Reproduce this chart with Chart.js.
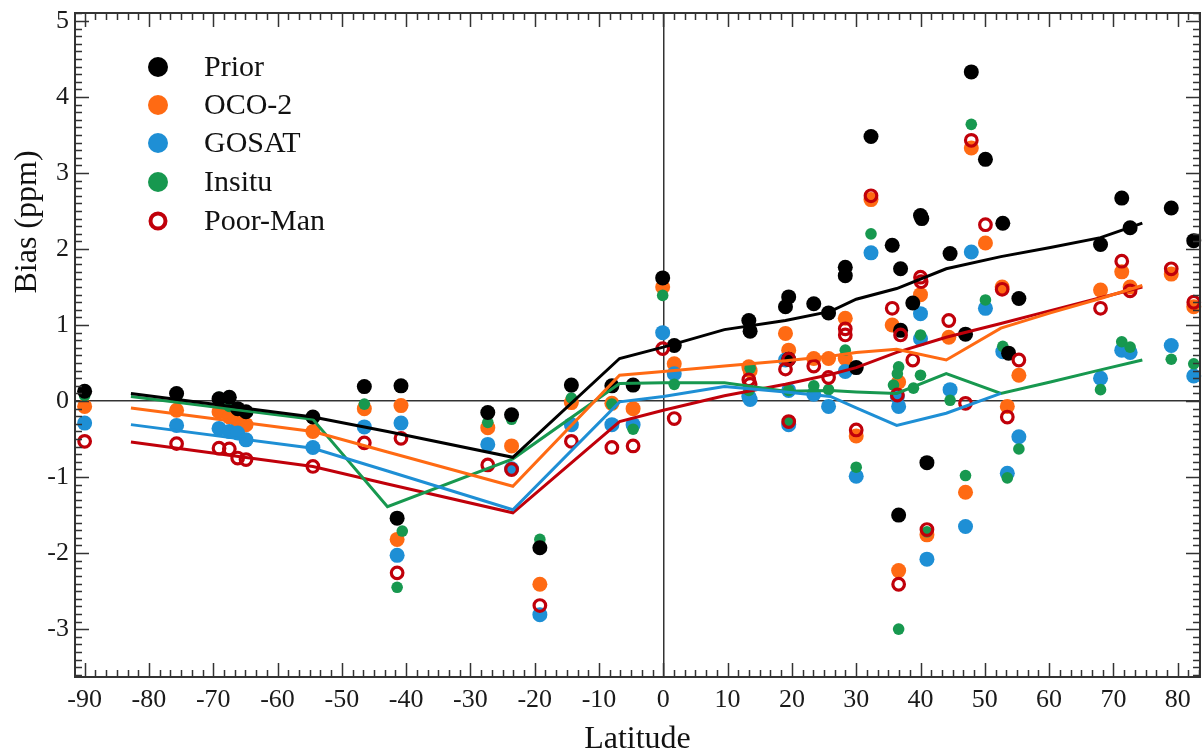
<!DOCTYPE html>
<html>
<head>
<meta charset="utf-8">
<title>Bias vs latitude</title>
<script src="https://cdn.jsdelivr.net/npm/chart.js@4.4.1/dist/chart.umd.min.js"></script>
<style>
  html, body { margin: 0; padding: 0; background: #fff; }
  #biasChart { display: block; }
</style>
</head>
<body>
<canvas id="biasChart" width="1203" height="752"></canvas>
<script>
// station points: latitude (deg) and bias (ppm) for each run

const priorLat = [-90, -75.7, -69.1, -67.5, -66.2, -64.9, -54.5, -46.5, -40.8, -41.4, -27.3, -23.6, -19.2, -14.3, -8.0, -4.7, -0.1, 1.7,
  13.3, 13.5, 19.0, 19.5, 19.5, 23.4, 25.7, 28.3, 28.3, 30.0, 32.3, 35.6, 36.9, 36.9, 36.6, 38.8, 40.0, 40.2, 41.0,
  44.6, 47.0, 47.9, 50.1, 52.8, 53.7, 55.3, 68.0, 71.3, 72.6, 79.0, 82.5];
const priorBias = [0.13, 0.10, 0.03, 0.05, -0.10, -0.14, -0.21, 0.19, 0.20, -1.54, -0.15, -0.18, -1.93, 0.21, 0.20, 0.21, 1.62, 0.73,
  1.06, 0.92, 1.24, 1.37, 0.55, 1.28, 1.16, 1.76, 1.65, 0.44, 3.48, 2.05, 1.74, 0.93, -1.50, 1.29, 2.44, 2.40, -0.81,
  1.94, 0.88, 4.33, 3.18, 2.34, 0.63, 1.35, 2.06, 2.67, 2.28, 2.54, 2.11];

const oco2Lat = [-90, -75.7, -69.1, -67.5, -66.2, -64.9, -54.5, -46.5, -40.8, -41.4, -27.3, -23.6, -19.2, -14.3, -8.0, -4.7, -0.1, 1.7,
  13.3, 13.5, 19.0, 19.5, 19.3, 23.4, 25.7, 28.3, 28.3, 30.0, 32.3, 35.6, 36.6, 36.6, 40.0, 41.0,
  44.4, 47.0, 47.9, 50.1, 52.7, 53.5, 55.3, 68.0, 71.3, 72.6, 79.0, 82.5];
const oco2Bias = [-0.07, -0.12, -0.14, -0.21, -0.27, -0.31, -0.40, -0.10, -0.06, -1.82, -0.35, -0.59, -2.41, -0.02, -0.03, -0.10, 1.50, 0.49,
  0.45, 0.40, 0.89, 0.67, 0.55, 0.56, 0.56, 1.09, 0.56, -0.46, 2.65, 1.00, 0.25, -2.23, 1.40, -1.76,
  0.84, -1.20, 3.33, 2.08, 1.50, -0.07, 0.34, 1.46, 1.70, 1.50, 1.67, 1.24];

const gosatLat = [-90, -75.7, -69.1, -67.5, -66.2, -64.9, -54.5, -46.5, -40.8, -41.4, -27.3, -23.6, -19.2, -14.3, -8.0, -4.7, -0.1, 1.7,
  13.3, 13.5, 19.0, 19.5, 19.5, 23.4, 25.7, 28.3, 30.0, 32.3, 36.4, 36.6, 40.0, 40.0, 41.0,
  44.6, 47.0, 47.9, 50.1, 52.8, 53.5, 55.3, 68.0, 71.3, 72.6, 79.0, 82.5];
const gosatBias = [-0.29, -0.32, -0.36, -0.40, -0.42, -0.51, -0.61, -0.34, -0.29, -2.03, -0.57, -0.89, -2.81, -0.31, -0.31, -0.31, 0.90, 0.36,
  0.06, 0.02, 0.54, 0.14, -0.31, 0.09, -0.07, 0.39, -0.99, 1.95, 0.06, -0.07, 1.15, 0.82, -2.08,
  0.15, -1.65, 1.96, 1.22, 0.65, -0.95, -0.47, 0.30, 0.67, 0.64, 0.73, 0.33];

const insituLat = [-90, -75.7, -69.1, -67.5, -66.2, -64.9, -54.5, -46.5, -40.6, -41.4, -27.3, -23.6, -19.2, -14.3, -8.0, -4.7, -0.1, 1.7,
  13.5, 13.3, 19.5, 19.5, 23.4, 25.7, 28.3, 30.0, 32.3, 36.6, 36.4, 35.8, 36.6, 38.9, 40.0, 40.0, 41.0,
  44.6, 47.0, 47.9, 50.1, 52.8, 53.5, 55.3, 68.0, 71.3, 72.6, 79.0, 82.5];
const insituBias = [0.07, 0.05, 0.05, -0.07, -0.12, -0.14, -0.22, -0.04, -1.71, -2.45, -0.28, -0.24, -1.82, 0.04, -0.04, -0.37, 1.39, 0.22,
  0.43, 0.14, 0.14, -0.28, 0.20, 0.15, 0.67, -0.87, 2.20, 0.45, 0.36, 0.21, -3.00, 0.17, 0.87, 0.34, -1.72,
  0.01, -0.98, 3.64, 1.33, 0.72, -1.01, -0.63, 0.15, 0.78, 0.71, 0.55, 0.49];

const poorManLat = [-90, -75.7, -69.1, -67.5, -66.2, -64.9, -54.5, -46.5, -40.8, -41.4, -27.3, -23.6, -19.2, -14.3, -8.0, -4.7, -0.1, 1.7,
  13.3, 13.5, 19.0, 19.5, 19.5, 23.4, 25.7, 28.3, 28.3, 30.0, 32.3, 35.6, 36.9, 36.4, 36.6, 38.8, 40.0, 40.1, 41.0,
  44.4, 47.0, 47.9, 50.1, 52.7, 53.5, 55.3, 68.0, 71.3, 72.6, 79.0, 82.5];
const poorManBias = [-0.53, -0.56, -0.62, -0.63, -0.75, -0.77, -0.86, -0.55, -0.49, -2.26, -0.84, -0.90, -2.69, -0.53, -0.61, -0.59, 0.69, -0.23,
  0.28, 0.22, 0.42, 0.55, -0.27, 0.46, 0.31, 0.95, 0.87, -0.38, 2.70, 1.22, 0.87, 0.08, -2.41, 0.54, 1.63, 1.57, -1.69,
  1.06, -0.03, 3.43, 2.32, 1.47, -0.21, 0.54, 1.22, 1.84, 1.45, 1.74, 1.30];

// zonal mean curves (same latitudes for every run, GOSAT curve stops early)
const lineLat = [-82.8, -54.5, -42.9, -23.4, -6.8, 0, 9.5, 19, 26, 30, 36.3, 44, 52.5, 60.2, 68, 74.5];
const priorLine = [0.10, -0.21, -0.40, -0.74, 0.56, 0.71, 0.94, 1.06, 1.18, 1.34, 1.48, 1.74, 1.90, 2.02, 2.15, 2.34];
const oco2Line = [-0.09, -0.40, -0.67, -1.12, 0.34, 0.39, 0.46, 0.53, 0.59, 0.64, 0.68, 0.54, 0.96, 1.16, 1.35, 1.52];
const gosatLine = [-0.31, -0.62, -0.92, -1.43, -0.01, 0.06, 0.19, 0.12, 0.06, -0.09, -0.32, -0.16, 0.10, null, null, null];
const insituLine = [0.06, -0.24, -1.39, -0.76, 0.23, 0.24, 0.24, 0.13, 0.14, 0.12, 0.10, 0.36, 0.10, 0.25, 0.41, 0.54];
const poorManLine = [-0.54, -0.86, -1.09, -1.47, -0.27, -0.12, 0.07, 0.22, 0.35, 0.44, 0.64, 0.84, 1.02, 1.19, 1.36, 1.50];

// tick labels
const latTicks = [-90, -80, -70, -60, -50, -40, -30, -20, -10, 0, 10, 20, 30, 40, 50, 60, 70, 80];
const biasTicks = [-3, -2, -1, 0, 1, 2, 3, 4, 5];

const seriesNames = ["Prior", "OCO-2", "GOSAT", "Insitu", "Poor-Man"];


// colours
const cPrior = "#000000";
const cOco2 = "#ff6a13";
const cGosat = "#1e8fd5";
const cInsitu = "#17984f";
const cPoorMan = "#c0000a";

const serifFont = "'Liberation Serif', 'DejaVu Serif', serif";


function toPoints(lats, vals) {
    return lats.map(function (lat, i) {
        return { x: lat, y: vals[i] };
    });
}

function dotSet(label, lats, vals, color, radius, order) {
    return {
        label: label,
        data: toPoints(lats, vals),
        backgroundColor: color,
        borderColor: color,
        pointRadius: radius,
        pointBorderWidth: 0,
        showLine: false,
        clip: false,
        order: order
    };
}

function lineSet(label, vals, color) {
    return {
        label: label,
        data: toPoints(lineLat, vals),
        borderColor: color,
        borderWidth: 3,
        pointRadius: 0,
        showLine: true,
        tension: 0,
        fill: false,
        order: 1
    };
}


// frame with inward ticks on all four sides, the y title and the legend
const frameAndLegend = {
    id: 'frameAndLegend',
    afterDraw: function (chart) {
        const ctx = chart.ctx;
        const area = chart.chartArea;
        const xs = chart.scales.x;
        const ys = chart.scales.y;

        ctx.save();
        ctx.strokeStyle = "#333";
        ctx.lineWidth = 1.5;
        ctx.beginPath();

        // latitude ticks: long every 10, short every 10/6
        for (let k = -60; k <= 60; k++) {
            const v = k * 10 / 6;
            if (v < xs.min || v > xs.max) continue;
            const len = (k % 6 === 0) ? 14 : 7;
            const px = Math.round(xs.getPixelForValue(v)) + 0.5;
            ctx.moveTo(px, area.bottom);
            ctx.lineTo(px, area.bottom - len);
            ctx.moveTo(px, area.top);
            ctx.lineTo(px, area.top + len);
        }

        // bias ticks: long every 1, short every 0.1
        for (let k = -40; k <= 55; k++) {
            const v = k / 10;
            if (v < ys.min || v > ys.max) continue;
            const len = (k % 10 === 0) ? 14 : 7;
            const py = Math.round(ys.getPixelForValue(v)) + 0.5;
            ctx.moveTo(area.left, py);
            ctx.lineTo(area.left + len, py);
            ctx.moveTo(area.right, py);
            ctx.lineTo(area.right - len, py);
        }
        ctx.stroke();

        ctx.lineWidth = 2;
        ctx.strokeRect(area.left, area.top, area.right - area.left, area.bottom - area.top);

        // y axis title sits above the middle in the original
        ctx.save();
        ctx.translate(28, 222);
        ctx.rotate(-Math.PI / 2);
        ctx.fillStyle = "#111";
        ctx.font = "32px " + serifFont;
        ctx.textAlign = "center";
        ctx.textBaseline = "middle";
        ctx.fillText("Bias (ppm)", 0, 0);
        ctx.restore();

        // legend
        const legendColors = [cPrior, cOco2, cGosat, cInsitu, cPoorMan];
        const legendY = [67, 105, 143, 182, 221];
        ctx.font = "30px " + serifFont;
        ctx.textAlign = "left";
        ctx.textBaseline = "middle";
        for (let i = 0; i < seriesNames.length; i++) {
            ctx.beginPath();
            if (i === 4) {
                ctx.arc(158, legendY[i], 7.5, 0, Math.PI * 2);
                ctx.strokeStyle = legendColors[i];
                ctx.lineWidth = 4;
                ctx.stroke();
            } else {
                ctx.arc(158, legendY[i], 10, 0, Math.PI * 2);
                ctx.fillStyle = legendColors[i];
                ctx.fill();
            }
            ctx.fillStyle = "#111";
            ctx.fillText(seriesNames[i], 204, legendY[i] + 1);
        }
        ctx.restore();
    }
};


const poorManDots = dotSet(seriesNames[4], poorManLat, poorManBias, cPoorMan, 5.8, 10);
poorManDots.backgroundColor = "rgba(0,0,0,0)";
poorManDots.pointBorderWidth = 3.2;

const biasChart = new Chart(document.getElementById('biasChart'), {
    type: 'scatter',
    data: {
        datasets: [
            lineSet("Prior mean", priorLine, cPrior),
            lineSet("OCO-2 mean", oco2Line, cOco2),
            lineSet("GOSAT mean", gosatLine, cGosat),
            lineSet("Insitu mean", insituLine, cInsitu),
            lineSet("Poor-Man mean", poorManLine, cPoorMan),
            poorManDots,
            dotSet(seriesNames[0], priorLat, priorBias, cPrior, 7.5, 11),
            dotSet(seriesNames[3], insituLat, insituBias, cInsitu, 5.8, 12),
            dotSet(seriesNames[2], gosatLat, gosatBias, cGosat, 7.5, 13),
            dotSet(seriesNames[1], oco2Lat, oco2Bias, cOco2, 7.5, 14)
        ]
    },
    options: {
        responsive: false,
        animation: false,
        devicePixelRatio: 1,
        layout: {
            autoPadding: false,
            padding: { top: 13, right: 3, left: 0, bottom: 0 }
        },
        plugins: {
            legend: { display: false },
            tooltip: { enabled: false }
        },
        scales: {
            x: {
                type: 'linear',
                min: -91.5,
                max: 83.47,
                afterFit: function (scale) {
                    scale.height = 75;
                    scale.paddingLeft = 0;
                    scale.paddingRight = 0;
                },
                afterBuildTicks: function (scale) {
                    scale.ticks = latTicks.map(function (v) { return { value: v }; });
                },
                border: { display: false },
                grid: {
                    drawTicks: false,
                    lineWidth: 1.5,
                    color: function (c) { return c.tick && c.tick.value === 0 ? "#333" : "rgba(0,0,0,0)"; }
                },
                ticks: {
                    padding: 8,
                    color: "#1a1a1a",
                    maxRotation: 0,
                    autoSkip: false,
                    font: { family: serifFont, size: 26 }
                },
                title: {
                    display: true,
                    text: "Latitude",
                    color: "#111",
                    padding: { top: 0, bottom: 0 },
                    font: { family: serifFont, size: 32, lineHeight: 0.8 }
                }
            },
            y: {
                type: 'linear',
                min: -3.63,
                max: 5.105,
                afterFit: function (scale) {
                    scale.width = 75;
                    scale.paddingTop = 0;
                    scale.paddingBottom = 0;
                },
                afterBuildTicks: function (scale) {
                    scale.ticks = biasTicks.map(function (v) { return { value: v }; });
                },
                border: { display: false },
                grid: {
                    drawTicks: false,
                    lineWidth: 1.5,
                    color: function (c) { return c.tick && c.tick.value === 0 ? "#333" : "rgba(0,0,0,0)"; }
                },
                ticks: {
                    padding: 6,
                    color: "#1a1a1a",
                    autoSkip: false,
                    font: { family: serifFont, size: 26 }
                }
            }
        }
    },
    plugins: [frameAndLegend]
});
</script>
</body>
</html>
